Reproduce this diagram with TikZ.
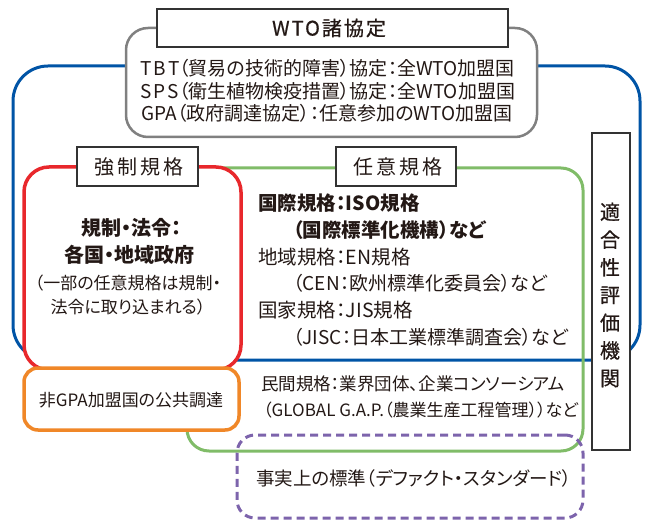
\documentclass[tikz,border=0pt]{standalone}
\usepackage{fontspec}
\setmainfont{Noto Sans CJK JP}[RawFeature=+palt]
\newfontfamily\jpsp{Noto Sans CJK JP}[LetterSpace=15]
\newfontfamily\jpmed{Noto Sans CJK JP}[LetterSpace=10,FakeBold=0.7]
\newfontfamily\jpvmed{Noto Sans CJK JP}[FakeBold=0.7]
\definecolor{cblue}{RGB}{0,84,166}
\definecolor{cred}{RGB}{232,40,44}
\definecolor{cgreen}{RGB}{128,188,104}
\definecolor{corange}{RGB}{240,135,40}
\definecolor{cgray}{RGB}{128,128,128}
\definecolor{cpurple}{RGB}{125,100,172}
\definecolor{ctext}{RGB}{35,24,21}
\begin{document}
\begin{tikzpicture}[x=1pt,y=-1pt,
  frame/.style={draw, rectangle, inner sep=0pt, line width=3pt},
  labelbox/.style={draw=black!80, fill=white, rectangle, inner sep=0pt, line width=1.2pt},
  txt/.style={text=ctext, inner sep=0pt, font=\fontsize{17}{20}\selectfont},
  big/.style={text=ctext, inner sep=0pt, font=\fontsize{19.5}{24}\selectfont},
]
\useasboundingbox (0,0) rectangle (645,521);
% frames
\node (blue) [frame, draw=cblue, rounded corners=35pt, minimum width=627pt, minimum height=294pt] at (326.5,213) {};
\node (green) [frame, draw=cgreen, rounded corners=22pt, minimum width=396pt, minimum height=283pt] at (385,309.5) {};
\node (gray) [frame, draw=cgray, fill=white, line width=2.5pt, rounded corners=22pt, minimum width=411pt, minimum height=109pt] at (331.5,82.5) {};
\node (wto) [labelbox, minimum width=351pt, minimum height=38pt] at (332.5,28) {};
\node (red) [frame, draw=cred, fill=white, line width=3.5pt, rounded corners=25pt, minimum width=217pt, minimum height=203pt] at (132.5,268.5) {};
\node (kyosei) [labelbox, minimum width=121pt, minimum height=39pt] at (137.5,166.5) {};
\node (nin) [labelbox, minimum width=120pt, minimum height=39pt] at (396,166.5) {};
\node (orange) [frame, draw=corange, fill=white, line width=3.5pt, rounded corners=14pt, minimum width=215pt, minimum height=62pt] at (131.5,399) {};
\node (tekigo) [labelbox, minimum width=38pt, minimum height=317pt] at (611,291.5) {};
\node (purple) [frame, draw=cpurple, dashed, dash pattern=on 8pt off 5pt, rounded corners=18pt, minimum width=346pt, minimum height=83pt] at (410,476.5) {};
% label texts
\node (wtot) [txt, font=\fontsize{20}{24}\jpmed] at (329,28) {WTO諸協定};
\node (kyoseit) [txt, font=\fontsize{20}{24}\jpsp] at (139,166.5) {強制規格};
\node (nint) [txt, font=\fontsize{20}{24}\jpsp] at (397.5,166.5) {任意規格};
% gray box lines
\node (g1) [txt, anchor=west, font=\fontsize{19}{22}\selectfont] at (140,68) {T\hspace{2pt}B\hspace{2pt}T（貿易の技術的障害）協定：全WTO加盟国};
\node (g2) [txt, anchor=west, font=\fontsize{19}{22}\selectfont] at (140,91) {S\hspace{2pt}P\hspace{2pt}S（衛生植物検疫措置）協定：全WTO加盟国};
\node (g3) [txt, anchor=west, font=\fontsize{19}{22}\selectfont] at (141,113) {GPA（政府調達協定）：任意参加のWTO加盟国};
% red box texts
\node (r1) [big, font=\fontsize{20}{24}\selectfont\bfseries] at (131,228) {規制・法令：};
\node (r2) [big, font=\fontsize{20}{24}\selectfont\bfseries] at (129,255) {各国・地域政府};
\node (r3) [txt] at (128,283) {（一部の任意規格は規制・};
\node (r4) [txt] at (128,307) {法令に取り込まれる）};
% green box texts
\node (n1) [big, anchor=west, font=\fontsize{19.5}{24}\selectfont\bfseries] at (258,203) {国際規格：ISO規格};
\node (n2) [big, anchor=west, font=\fontsize{19.5}{24}\selectfont\bfseries] at (293,230) {（国際標準化機構）など};
\node (n3) [big, anchor=west] at (258,257) {地域規格：EN規格};
\node (n4) [big, anchor=west, font=\fontsize{19}{24}\selectfont] at (293,283) {（CEN：欧州標準化委員会）など};
\node (n5) [big, anchor=west] at (258,310) {国家規格：JIS規格};
\node (n6) [big, anchor=west, font=\fontsize{19}{24}\selectfont] at (293,337) {（JISC：日本工業標準調査会）など};
\node (m1) [txt, anchor=west, font=\fontsize{17.5}{20}\selectfont] at (261,384) {民間規格：業界団体、企業コンソーシアム};
\node (m2) [txt, anchor=west] at (263,410) {（GLOBAL G.A.P.（農業生産工程管理））など};
% orange, purple
\node (ot) [txt] at (131,400) {非GPA加盟国の公共調達};
\node (pt) [txt, font=\fontsize{18.5}{20}\selectfont] at (414,478) {事実上の標準（デファクト・スタンダード）};
% vertical text
\node (vt) [txt, align=center, font=\fontsize{20}{27.7}\jpvmed] at (610,295) {適\\合\\性\\評\\価\\機\\関};
\end{tikzpicture}
\end{document}
